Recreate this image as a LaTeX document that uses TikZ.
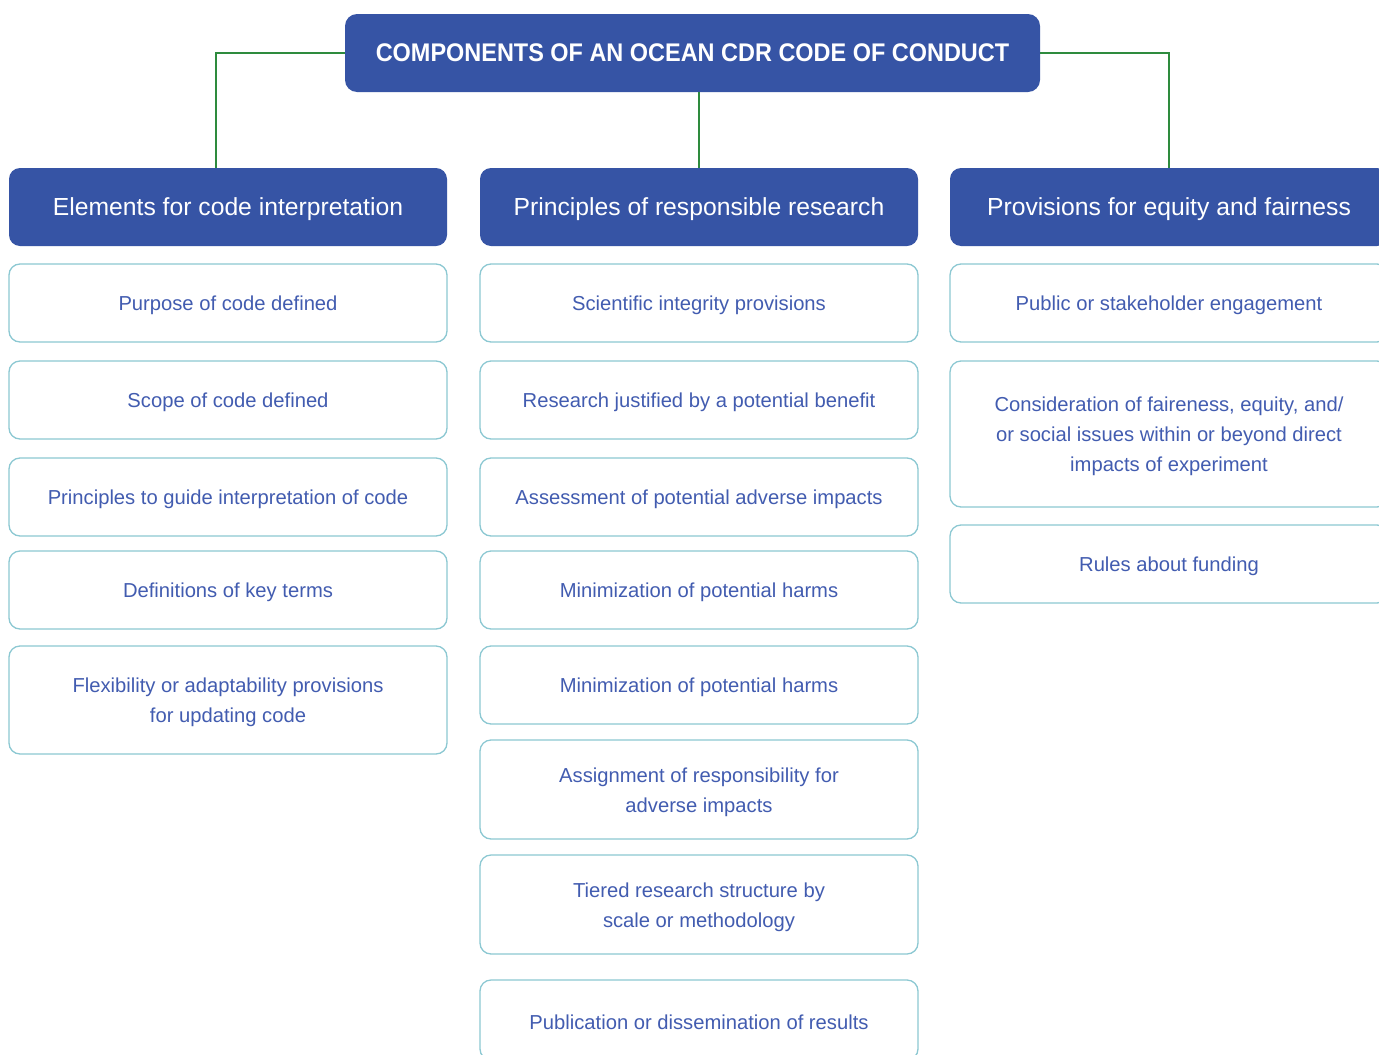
\documentclass[tikz,border=0pt]{standalone}
\usepackage{fontspec}
\setmainfont{Liberation Sans}
\newfontfamily\titlefam[FakeStretch=0.92]{Liberation Sans}
\definecolor{hdrblue}{RGB}{54,84,165}
\definecolor{itemtext}{RGB}{66,92,176}
\definecolor{itemborder}{RGB}{140,200,210}
\definecolor{linkgreen}{RGB}{46,139,62}
\tikzset{
  hdr/.style={rounded corners=11pt, fill=hdrblue, minimum width=438pt, minimum height=78pt, inner sep=0pt},
  hdrtxt/.style={text=white, inner sep=0pt, font=\fontsize{24.7}{29}\selectfont},
  ttl/.style={rounded corners=12pt, fill=hdrblue, text=white, minimum width=695pt, minimum height=78pt, inner sep=0pt, font=\titlefam\bfseries\fontsize{25.5}{30}\selectfont},
  itembox/.style={rounded corners=11pt, draw=itemborder, line width=1.3pt, fill=white, minimum width=438pt, inner sep=0pt},
  itemtxt/.style={text=itemtext, align=center, inner sep=0pt, font=\fontsize{20.2}{30}\selectfont},
  link/.style={draw=linkgreen, line width=2pt}
}
\newcommand{\itm}[5]{%
  \node[itembox, minimum height=#4] (#1) at (#2,#3) {};
  \node[itemtxt] (#1t) at ([yshift=-2.5pt]#1.center) {#5};}
\newcommand{\hdrnode}[4]{%
  \node[hdr] (#1) at (#2,#3) {};
  \node[hdrtxt] (#1t) at ([yshift=-2.5pt]#1.center) {#4};}
\begin{document}
\begin{tikzpicture}[x=1pt,y=-1pt]
\clip (0,0) rectangle (1379,1055);
\fill[white] (0,0) rectangle (1379,1055);
\node[ttl] (title) at (692.5,53) {COMPONENTS OF AN OCEAN CDR CODE OF CONDUCT};
\hdrnode{h1}{228}{207}{Elements for code interpretation}
\hdrnode{h2}{699}{207}{Principles of responsible research}
\hdrnode{h3}{1169}{207}{Provisions for equity and fairness}
\coordinate (j1) at (216,168);
\draw[link] (title.west) -| (j1);
\draw[link] (title.south -| h2.north) -- (h2.north);
\draw[link] (title.east) -| (h3.north);
% column 1
\itm{a1}{228}{303}{78pt}{Purpose of code defined}
\itm{a2}{228}{400}{78pt}{Scope of code defined}
\itm{a3}{228}{497}{78pt}{Principles to guide interpretation of code}
\itm{a4}{228}{590}{78pt}{Definitions of key terms}
\itm{a5}{228}{700}{108pt}{Flexibility or adaptability provisions\\for updating code}
% column 2
\itm{b1}{699}{303}{78pt}{Scientific integrity provisions}
\itm{b2}{699}{400}{78pt}{Research justified by a potential benefit}
\itm{b3}{699}{497}{78pt}{Assessment of potential adverse impacts}
\itm{b4}{699}{590}{78pt}{Minimization of potential harms}
\itm{b5}{699}{685}{78pt}{Minimization of potential harms}
\itm{b6}{699}{789.5}{99pt}{Assignment of responsibility for\\adverse impacts}
\itm{b7}{699}{904.5}{99pt}{Tiered research structure by\\scale or methodology}
\itm{b8}{699}{1020}{80pt}{Publication or dissemination of results}
% column 3
\itm{c1}{1169}{303}{78pt}{Public or stakeholder engagement}
\itm{c2}{1169}{434}{146pt}{Consideration of faireness, equity, and/\\or social issues within or beyond direct\\impacts of experiment}
\itm{c3}{1169}{564}{78pt}{Rules about funding}
\end{tikzpicture}
\end{document}
